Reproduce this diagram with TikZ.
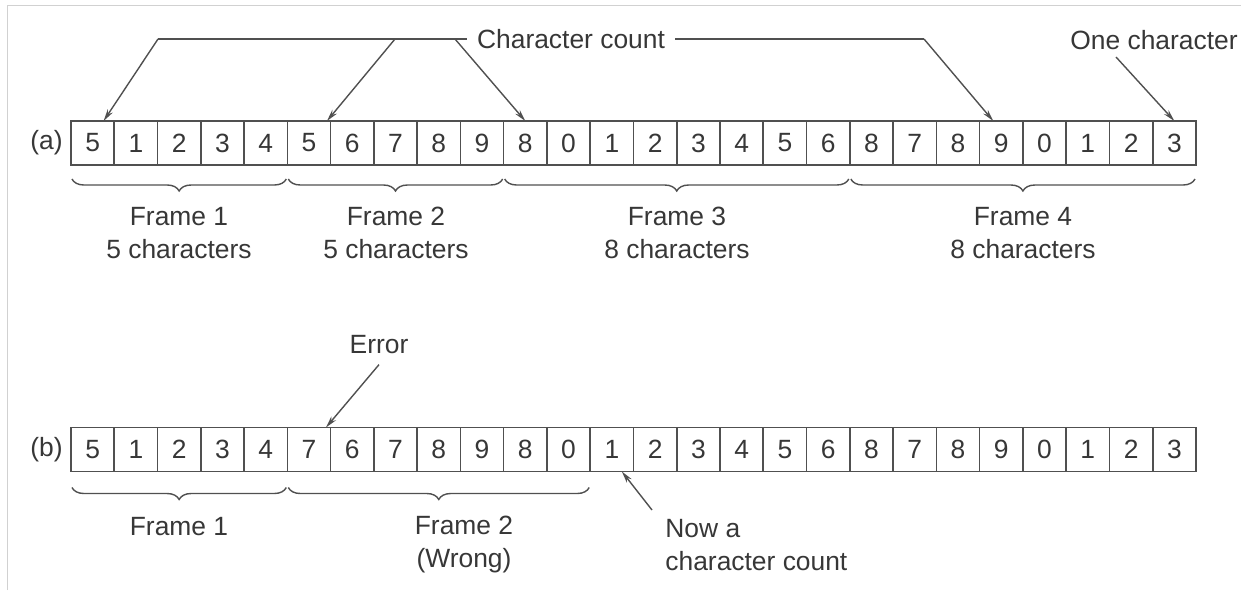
\documentclass[tikz,border=0pt]{standalone}
\usepackage{fontspec}
\setmainfont{Liberation Sans}
\usetikzlibrary{positioning,calc,arrows.meta,decorations.pathreplacing}
\definecolor{scanink}{RGB}{55,55,55}
\definecolor{scanline}{RGB}{80,80,80}

\begin{document}
\begin{tikzpicture}[x=0.5pt,y=-0.5pt,
  font=\fontsize{13.2}{16.5}\selectfont, text=scanink,
  cell/.style={draw=scanline, line width=0.8pt, minimum width=21.63pt, minimum height=22pt, inner sep=0pt, outer sep=0pt},
  lbl/.style={inner sep=0pt, align=center},
  ptr/.style={scanline, line width=0.7pt, -{Stealth[length=6pt,width=3pt]}},
  lead/.style={scanline, line width=0.7pt},
  framebrace/.style={scanline, line width=0.7pt, decorate, decoration={brace,mirror,amplitude=6pt}}]
\useasboundingbox (0,0) rectangle (1241,590);
\draw[black!18] (7,590) -- (7,5) -- (1241,5);

% row (a): four correct frames
\foreach \d [count=\i from 0] in {5,1,2,3,4,5,6,7,8,9,8,0,1,2,3,4,5,6,8,7,8,9,0,1,2,3}
  \node[cell] (a\i) at ({92.6+43.27*\i},143) {\d};
\node[lbl, left=4pt of a0] (la) {(a)};

\node[lbl] (cc) at (571,39) {Character count};
\node[lbl] (oc) at (1154,40) {One character};
\coordinate (k1) at (158,39);
\coordinate (k2) at (395,39);
\coordinate (k3) at (455,39);
\coordinate (k4) at (924,39);
\coordinate (k5) at (1116,57);
\draw[lead] ([xshift=-5pt]cc.west) -- (k1);
\draw[lead] ([xshift=5pt]cc.east) -- (k4);
\draw[ptr] (k1) -- ($(a0.north)+(11,0)$);
\draw[ptr] (k2) -- ($(a5.north)+(18,0)$);
\draw[ptr] (k3) -- (a10.north);
\draw[ptr] (k4) -- ($(a21.north)+(-8,0)$);
\draw[ptr] (k5) -- (a25.north);

\draw[framebrace] ($(a0.south west)+(1,14)$) -- ($(a4.south east)+(-1,14)$);
\draw[framebrace] ($(a5.south west)+(1,14)$) -- ($(a9.south east)+(-1,14)$);
\draw[framebrace] ($(a10.south west)+(1,14)$) -- ($(a17.south east)+(-1,14)$);
\draw[framebrace] ($(a18.south west)+(1,14)$) -- ($(a25.south east)+(-1,14)$);
\node[lbl] (fa1) at (179,233) {Frame 1\\5 characters};
\node[lbl] (fa2) at (396,233) {Frame 2\\5 characters};
\node[lbl] (fa3) at (677,233) {Frame 3\\8 characters};
\node[lbl] (fa4) at (1023,233) {Frame 4\\8 characters};

% row (b): count 5 of frame 2 hit by an error
\foreach \d [count=\i from 0] in {5,1,2,3,4,7,6,7,8,9,8,0,1,2,3,4,5,6,8,7,8,9,0,1,2,3}
  \node[cell] (b\i) at ({92.6+43.27*\i},449.5) {\d};
\node[lbl, left=4pt of b0] (lb) {(b)};

\node[lbl] (err) at (379,345) {Error};
\draw[ptr] ([yshift=-5pt]err.south) -- ($(b5.north)+(17,0)$);

\draw[framebrace] ($(b0.south west)+(1,16)$) -- ($(b4.south east)+(-1,16)$);
\draw[framebrace] ($(b5.south west)+(1,16)$) -- ($(b11.south east)+(-1,16)$);
\node[lbl] (fb1) at (179,527) {Frame 1};
\node[lbl] (fb2) at (464,545) {Frame 2\\(Wrong)};

\node[lbl, align=left, anchor=west] (now) at (665,545) {Now a\\character count};
\coordinate (k6) at (652,510);
\draw[ptr] (k6) -- ($(b12.south)+(10,0)$);
\end{tikzpicture}
\end{document}
